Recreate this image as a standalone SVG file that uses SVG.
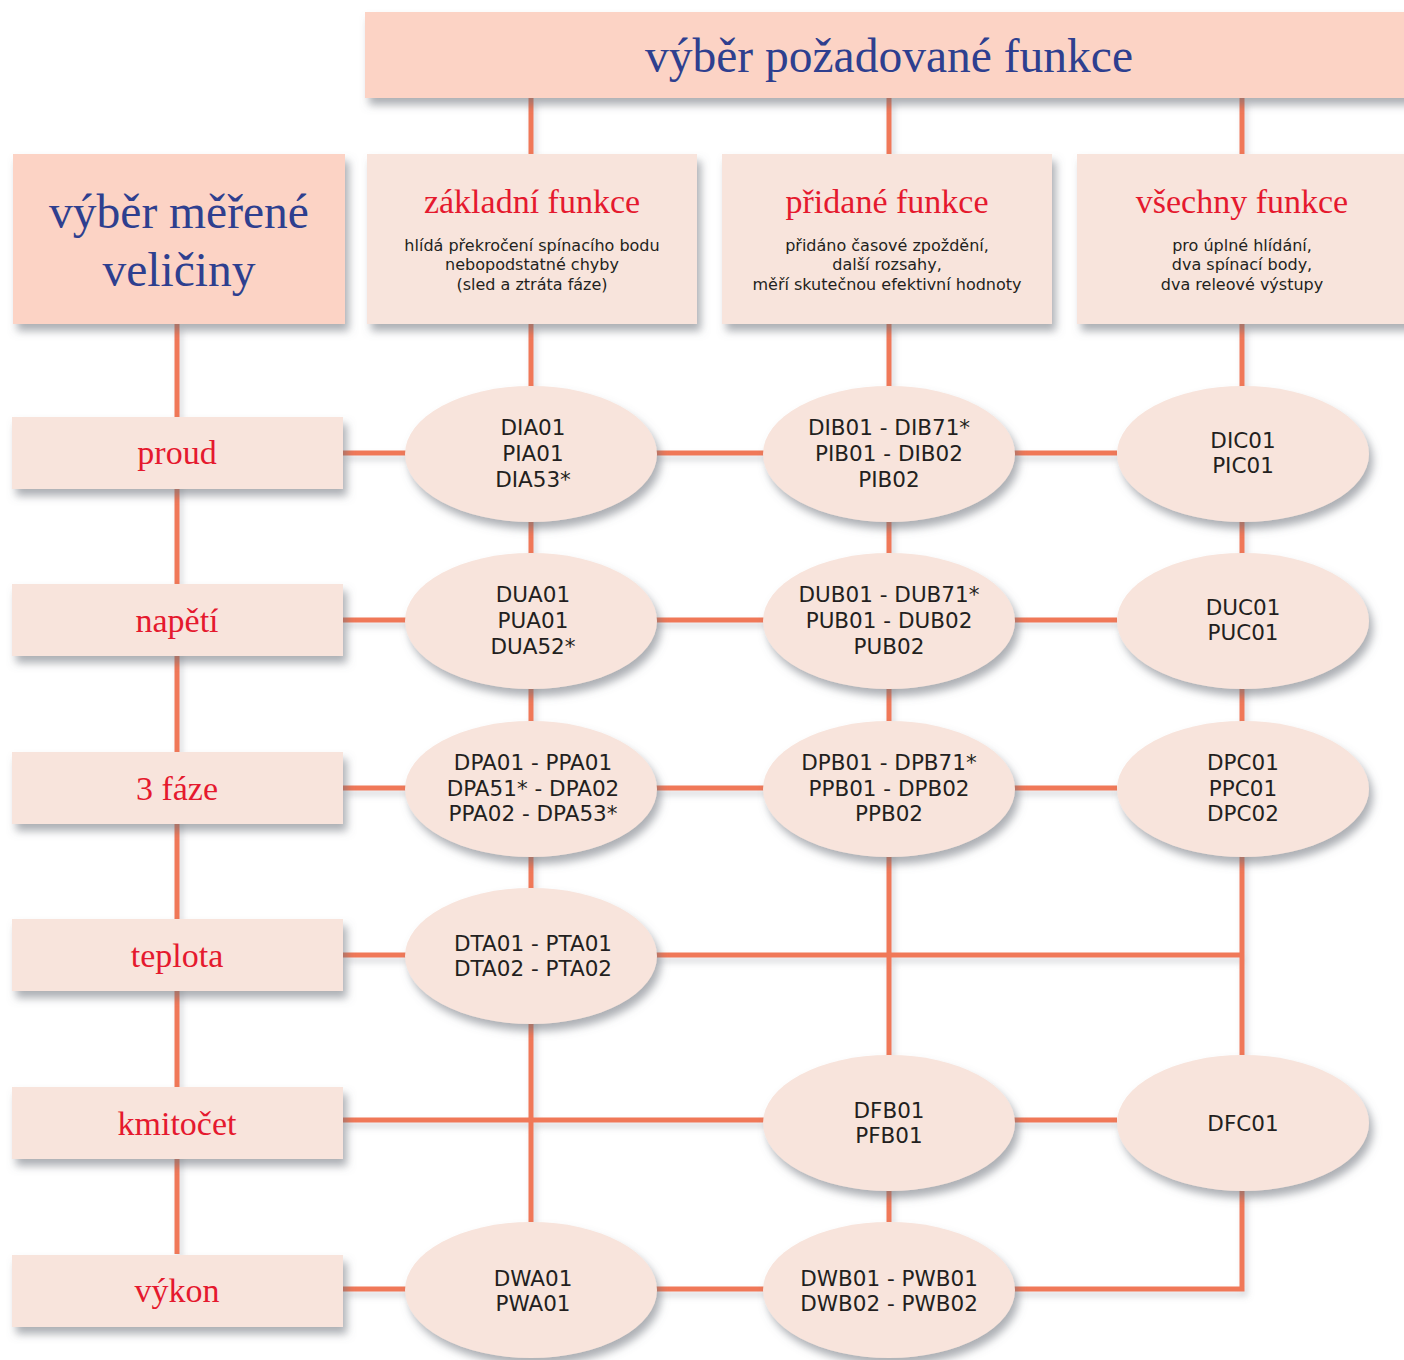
<svg xmlns="http://www.w3.org/2000/svg" width="1404" height="1360" viewBox="0 0 1404 1360">
<defs>
<filter id="sh" x="-10%" y="-10%" width="130%" height="140%">
<feDropShadow dx="4" dy="7" stdDeviation="4" flood-color="#6b6e78" flood-opacity="0.55"/>
</filter>
<filter id="lsh" x="-5%" y="-5%" width="110%" height="110%">
<feDropShadow dx="3" dy="5" stdDeviation="3" flood-color="#8a8d96" flood-opacity="0.35"/>
</filter>
</defs>
<style>
.hdr{fill:#fcd3c5;filter:url(#sh)}
.box{fill:#f8e4dc;filter:url(#sh)}
.ell{fill:#f8e4dc;filter:url(#sh)}
.con{stroke:#f07858;stroke-width:5;fill:none}
.bt{font-family:"Liberation Serif","Times New Roman",serif;fill:#2e3f8f;font-size:47.5px;text-anchor:middle}
.rt{font-family:"Liberation Serif","Times New Roman",serif;fill:#e5192e;text-anchor:middle}
.sub{font-family:"DejaVu Sans",Verdana,sans-serif;fill:#231f20;font-size:16px;text-anchor:middle}
.et{font-family:"DejaVu Sans",Verdana,sans-serif;fill:#231f20;font-size:21.5px;text-anchor:middle}
</style>
<rect width="1404" height="1360" fill="#ffffff"/>
<g id="connectors" filter="url(#lsh)">
<path class="con" d="M531 98V154M889 98V154M1242 98V154"/>
<path class="con" d="M177 324V1254"/>
<path class="con" d="M531 324V1222"/>
<path class="con" d="M889 324V1222"/>
<path class="con" d="M1242 324V1055"/>
<path class="con" d="M343 453H1117"/>
<path class="con" d="M343 620H1117"/>
<path class="con" d="M343 788H1117"/>
<path class="con" d="M343 955H1242"/>
<path class="con" d="M343 1120H1117"/>
<path class="con" d="M343 1289H1242V1190"/>
</g>
<g id="top-header"><rect class="hdr" x="365" y="12" width="1050" height="86"/><text class="bt" x="889" y="72">výběr požadované funkce</text></g>
<g id="left-header"><rect class="hdr" x="13" y="154" width="332" height="170"/><text class="bt" x="179" y="228">výběr měřené</text><text class="bt" x="179" y="286">veličiny</text></g>
<g id="col-a"><rect class="box" x="367" y="154" width="330" height="170"/><text class="rt" x="532" y="213" font-size="34">základní funkce</text><text class="sub" x="532" y="251">hlídá překročení spínacího bodu</text><text class="sub" x="532" y="270">nebopodstatné chyby</text><text class="sub" x="532" y="290">(sled a ztráta fáze)</text></g>
<g id="col-b"><rect class="box" x="722" y="154" width="330" height="170"/><text class="rt" x="887" y="213" font-size="34">přidané funkce</text><text class="sub" x="887" y="251">přidáno časové zpoždění,</text><text class="sub" x="887" y="270">další rozsahy,</text><text class="sub" x="887" y="290">měří skutečnou efektivní hodnoty</text></g>
<g id="col-c"><rect class="box" x="1077" y="154" width="340" height="170"/><text class="rt" x="1242" y="213" font-size="34">všechny funkce</text><text class="sub" x="1242" y="251">pro úplné hlídání,</text><text class="sub" x="1242" y="270">dva spínací body,</text><text class="sub" x="1242" y="290">dva releové výstupy</text></g>
<g id="row-proud"><rect class="box" x="12" y="417" width="331" height="72"/><text class="rt" x="177" y="464" font-size="34">proud</text></g>
<g id="row-napeti"><rect class="box" x="12" y="584" width="331" height="72"/><text class="rt" x="177" y="632" font-size="34">napětí</text></g>
<g id="row-3faze"><rect class="box" x="12" y="752" width="331" height="72"/><text class="rt" x="177" y="800" font-size="34">3 fáze</text></g>
<g id="row-teplota"><rect class="box" x="12" y="919" width="331" height="72"/><text class="rt" x="177" y="967" font-size="34">teplota</text></g>
<g id="row-kmitocet"><rect class="box" x="12" y="1087" width="331" height="72"/><text class="rt" x="177" y="1135" font-size="34">kmitočet</text></g>
<g id="row-vykon"><rect class="box" x="12" y="1255" width="331" height="72"/><text class="rt" x="177" y="1302" font-size="34">výkon</text></g>
<g id="n-dia"><ellipse class="ell" cx="531" cy="454" rx="126" ry="68"/><text class="et" x="533" y="435">DIA01</text><text class="et" x="533" y="461">PIA01</text><text class="et" x="533" y="487">DIA53*</text></g>
<g id="n-dib"><ellipse class="ell" cx="889" cy="454" rx="126" ry="68"/><text class="et" x="889" y="435">DIB01 - DIB71*</text><text class="et" x="889" y="461">PIB01 - DIB02</text><text class="et" x="889" y="487">PIB02</text></g>
<g id="n-dic"><ellipse class="ell" cx="1243" cy="454" rx="126" ry="68"/><text class="et" x="1243" y="448">DIC01</text><text class="et" x="1243" y="473">PIC01</text></g>
<g id="n-dua"><ellipse class="ell" cx="531" cy="621" rx="126" ry="68"/><text class="et" x="533" y="602">DUA01</text><text class="et" x="533" y="628">PUA01</text><text class="et" x="533" y="654">DUA52*</text></g>
<g id="n-dub"><ellipse class="ell" cx="889" cy="621" rx="126" ry="68"/><text class="et" x="889" y="602">DUB01 - DUB71*</text><text class="et" x="889" y="628">PUB01 - DUB02</text><text class="et" x="889" y="654">PUB02</text></g>
<g id="n-duc"><ellipse class="ell" cx="1243" cy="621" rx="126" ry="68"/><text class="et" x="1243" y="615">DUC01</text><text class="et" x="1243" y="640">PUC01</text></g>
<g id="n-dpa"><ellipse class="ell" cx="531" cy="789" rx="126" ry="68"/><text class="et" x="533" y="770">DPA01 - PPA01</text><text class="et" x="533" y="796">DPA51* - DPA02</text><text class="et" x="533" y="821">PPA02 - DPA53*</text></g>
<g id="n-dpb"><ellipse class="ell" cx="889" cy="789" rx="126" ry="68"/><text class="et" x="889" y="770">DPB01 - DPB71*</text><text class="et" x="889" y="796">PPB01 - DPB02</text><text class="et" x="889" y="821">PPB02</text></g>
<g id="n-dpc"><ellipse class="ell" cx="1243" cy="789" rx="126" ry="68"/><text class="et" x="1243" y="770">DPC01</text><text class="et" x="1243" y="796">PPC01</text><text class="et" x="1243" y="821">DPC02</text></g>
<g id="n-dta"><ellipse class="ell" cx="531" cy="956" rx="126" ry="68"/><text class="et" x="533" y="951">DTA01 - PTA01</text><text class="et" x="533" y="976">DTA02 - PTA02</text></g>
<g id="n-dfb"><ellipse class="ell" cx="889" cy="1123" rx="126" ry="68"/><text class="et" x="889" y="1118">DFB01</text><text class="et" x="889" y="1143">PFB01</text></g>
<g id="n-dfc"><ellipse class="ell" cx="1243" cy="1123" rx="126" ry="68"/><text class="et" x="1243" y="1131">DFC01</text></g>
<g id="n-dwa"><ellipse class="ell" cx="531" cy="1290" rx="126" ry="68"/><text class="et" x="533" y="1286">DWA01</text><text class="et" x="533" y="1311">PWA01</text></g>
<g id="n-dwb"><ellipse class="ell" cx="889" cy="1290" rx="126" ry="68"/><text class="et" x="889" y="1286">DWB01 - PWB01</text><text class="et" x="889" y="1311">DWB02 - PWB02</text></g>
</svg>
